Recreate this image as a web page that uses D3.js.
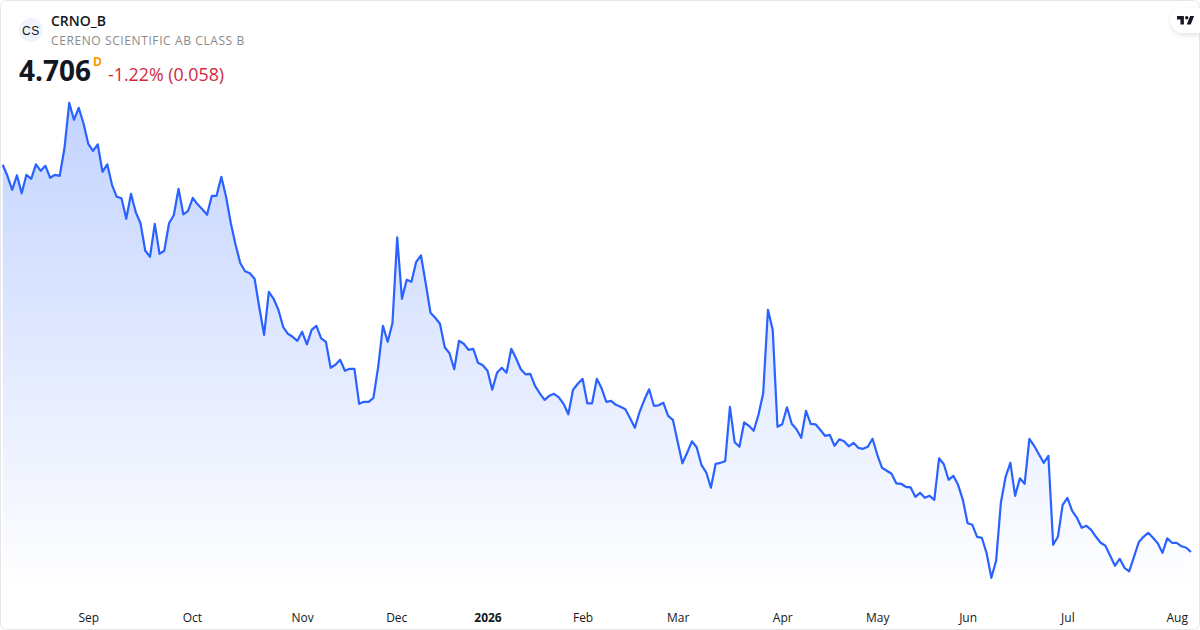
<!DOCTYPE html>
<html>
<head>
<meta charset="utf-8">
<script src="https://cdn.jsdelivr.net/npm/d3@7"></script>
<style>
  html, body { margin: 0; padding: 0; background: #fff; }
  svg { display: block; font-family: "Open Sans", sans-serif; }
  .tick text { font-size: 12px; fill: #131722; }
</style>
</head>
<body>
<svg id="chart" width="1200" height="630"></svg>
<script>
// daily closes
const closes = [
  12.45,12.23,11.95,12.24,11.88,12.25,12.17,12.46,12.33,12.43,
  12.19,12.25,12.23,12.78,13.69,13.35,13.59,13.28,12.87,12.73,
  12.86,12.31,12.46,12.05,11.81,11.78,11.37,11.87,11.50,11.28,
  10.73,10.61,11.27,10.67,10.73,11.28,11.44,11.97,11.46,11.53,
  11.79,11.66,11.56,11.45,11.83,11.83,12.21,11.81,11.28,10.85,
  10.48,10.32,10.28,10.17,9.59,9.05,9.91,9.77,9.55,9.21,
  9.07,9.01,8.93,9.11,8.86,9.15,9.23,8.98,8.91,8.39,
  8.45,8.55,8.33,8.37,8.37,7.67,7.71,7.71,7.79,8.41,
  9.23,8.91,9.28,11.00,9.77,10.15,10.11,10.51,10.64,10.08,
  9.49,9.39,9.27,8.80,8.68,8.36,8.93,8.87,8.75,8.77,
  8.49,8.44,8.33,7.95,8.29,8.39,8.29,8.77,8.58,8.36,
  8.26,8.27,8.03,7.88,7.75,7.83,7.87,7.80,7.67,7.46,
  7.95,8.07,8.17,7.68,7.68,8.17,7.98,7.71,7.73,7.65,
  7.61,7.56,7.38,7.19,7.51,7.75,7.96,7.63,7.64,7.69,
  7.43,7.35,6.91,6.48,6.69,6.92,6.80,6.45,6.30,5.99,
  6.47,6.49,6.52,7.61,6.90,6.81,7.30,7.23,7.13,7.45,
  7.88,9.55,9.15,7.21,7.26,7.60,7.27,7.16,6.99,7.53,
  7.27,7.26,7.15,7.03,7.05,6.83,6.96,6.92,6.82,6.89,
  6.79,6.77,6.81,6.97,6.65,6.39,6.33,6.27,6.08,6.07,
  6.01,6.00,5.81,5.89,5.79,5.83,5.75,6.58,6.46,6.15,
  6.23,6.05,5.75,5.28,5.25,5.01,4.99,4.68,4.19,4.53,
  5.69,6.21,6.49,5.83,6.18,6.07,6.97,6.83,6.66,6.49,
  6.63,4.85,5.01,5.65,5.79,5.53,5.39,5.19,5.23,5.15,
  5.01,4.89,4.83,4.63,4.43,4.57,4.39,4.32,4.61,4.90,
  5.01,5.09,4.99,4.88,4.69,4.98,4.89,4.89,4.82,4.79,
  4.706
];
const tickLabels = ["Sep","Oct","Nov","Dec","2026","Feb","Mar","Apr","May","Jun","Jul","Aug"];
const tickIndexes = [18,39.8,63,82.8,102,122,142,164,184,203,224,247];

const svg = d3.select("#chart");
const width = 1200, height = 630;

const x = d3.scaleLinear().domain([0, closes.length - 1]).range([2.67, 1191]);
const y = d3.scaleLinear().domain([3.146, 15.746]).range([height, 0]);
const baseY = 590;

// card border
svg.append("rect")
   .attr("x", 0.5).attr("y", 0.5)
   .attr("width", width - 1).attr("height", height - 1)
   .attr("rx", 6)
   .attr("fill", "#fff")
   .attr("stroke", "#e6e6e6");

const defs = svg.append("defs");
const grad = defs.append("linearGradient")
   .attr("id", "areaFill")
   .attr("gradientUnits", "userSpaceOnUse")
   .attr("x1", 0).attr("x2", 0)
   .attr("y1", y(d3.max(closes))).attr("y2", baseY);
grad.append("stop").attr("offset", 0).attr("stop-color", "#2962ff").attr("stop-opacity", 0.28);
grad.append("stop").attr("offset", 1).attr("stop-color", "#2962ff").attr("stop-opacity", 0);

const shadow = defs.append("filter").attr("id", "badgeShadow")
   .attr("x", "-30%").attr("y", "-30%").attr("width", "160%").attr("height", "170%");
shadow.append("feDropShadow")
   .attr("dx", 0).attr("dy", 2).attr("stdDeviation", 2.5)
   .attr("flood-color", "#000").attr("flood-opacity", 0.12);

const area = d3.area()
   .x((d, i) => x(i))
   .y0(baseY)
   .y1(d => y(d));
const line = d3.line()
   .x((d, i) => x(i))
   .y(d => y(d));

svg.append("path").datum(closes)
   .attr("d", area)
   .attr("fill", "url(#areaFill)");
svg.append("path").datum(closes)
   .attr("d", line)
   .attr("fill", "none")
   .attr("stroke", "#2962ff")
   .attr("stroke-width", 2.2)
   .attr("stroke-linejoin", "round");

// month labels
const axis = d3.axisBottom(x)
   .tickValues(tickIndexes)
   .tickFormat((d, i) => tickLabels[i])
   .tickSize(0)
   .tickPadding(0);
const axisG = svg.append("g")
   .attr("transform", "translate(0,613)")
   .call(axis);
axisG.select(".domain").remove();
axisG.selectAll("text")
   .style("font-family", '"Open Sans", sans-serif')
   .style("font-weight", d => d === 102 ? 700 : 400);

// header
svg.append("circle").attr("cx", 31).attr("cy", 30).attr("r", 12).attr("fill", "#f0f3fa");
svg.append("text").attr("x", 31).attr("y", 34.5)
   .attr("text-anchor", "middle")
   .attr("font-family", '"Liberation Sans", sans-serif')
   .attr("font-size", 12).attr("letter-spacing", 0.6).attr("fill", "#131722").text("CS");
svg.append("text").attr("x", 51).attr("y", 26)
   .attr("font-size", 14).attr("font-weight", 600).attr("fill", "#131722").text("CRNO_B");
svg.append("text").attr("x", 51).attr("y", 45)
   .attr("font-size", 12).attr("fill", "#8a8a8a").attr("letter-spacing", 0.6)
   .text("CERENO SCIENTIFIC AB CLASS B");
svg.append("text").attr("x", 19).attr("y", 81)
   .attr("font-size", 28).attr("font-weight", 700).attr("fill", "#131722").text("4.706");
svg.append("text").attr("x", 93).attr("y", 66)
   .attr("font-size", 12).attr("font-weight", 700).attr("fill", "#ff9800").text("D");
svg.append("text").attr("x", 108).attr("y", 81)
   .attr("font-size", 17.8).attr("fill", "#d0293f").text("-1.22% (0.058)");

// TradingView badge
svg.append("path")
   .attr("d", "M1200 8H1183a12 12 0 0 0 0 25H1200Z")
   .attr("fill", "#fff")
   .attr("filter", "url(#badgeShadow)");
svg.append("path")
   .attr("transform", "translate(1175.9,12.6) scale(0.57)")
   .attr("d", "M14 6H2v6h6v9h6V6Zm12 15h-7l6-15h7l-6 15Zm-7-9a3 3 0 1 0 0-6 3 3 0 0 0 0 6Z")
   .attr("fill", "#131722");
</script>
</body>
</html>
